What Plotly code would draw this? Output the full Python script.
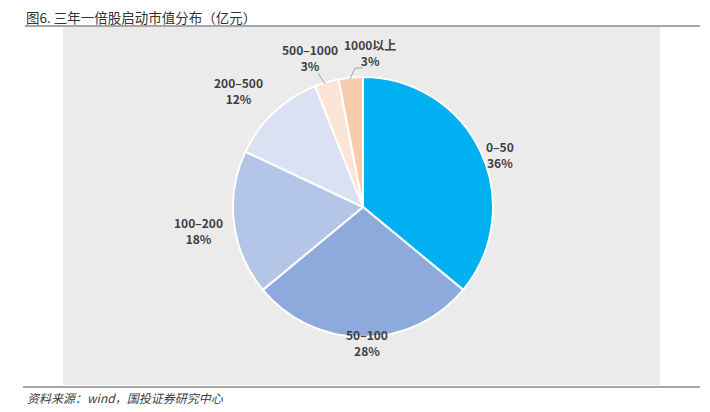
import plotly.graph_objects as go

# Data
categories = ["0–50", "50–100", "100–200", "200–500", "500–1000", "1000以上"]
shares = [36, 28, 18, 12, 3, 3]
colors = ["#00B0F0", "#8EA9DB", "#B4C6E7", "#D9E1F2", "#FCE4D6", "#F8CBAD"]

# Label placement (pixel centers of label blocks) - layout only
label_pos = [(500, 154), (367, 342), (198, 230), (238, 91), (310, 57), (370, 53)]

# page body has an 8px default margin; work in page pixels and convert
OFF = 8
W, H = 710 - OFF, 412 - OFF
def px(x):
    return (x - OFF) / W
def py(y):
    return 1 - (y - OFF) / H

fig = go.Figure()
cx, cy, r = 363, 207, 130
fig.add_trace(go.Pie(
    labels=categories, values=shares, sort=False, direction="clockwise", rotation=0,
    marker=dict(colors=colors, line=dict(color="white", width=2)),
    textinfo="none", hoverinfo="label+percent", showlegend=False,
    domain=dict(x=[px(cx - r), px(cx + r)], y=[py(cy + r), py(cy - r)]),
))

total = sum(shares)
annotations = []
for cat, v, (lx, ly) in zip(categories, shares, label_pos):
    pct = round(v / total * 100)
    annotations.append(dict(
        x=px(lx), y=py(ly), xref="paper", yref="paper", showarrow=False,
        text=f"{cat}<br>{pct}%", xanchor="center", yanchor="middle",
        font=dict(family="Noto Sans CJK SC", size=12, color="#404040", weight="bold"),
        align="center",
    ))

# Title and footer
annotations.append(dict(x=px(25), y=py(16.5), xref="paper", yref="paper", showarrow=False,
                        text="图6. 三年一倍股启动市值分布（亿元）", xanchor="left", yanchor="middle",
                        borderpad=0,
                        font=dict(family="Noto Sans CJK SC", size=13.5, color="#333333")))
annotations.append(dict(x=px(25), y=py(397), xref="paper", yref="paper", showarrow=False,
                        text="资料来源：wind，国投证券研究中心", xanchor="left", yanchor="middle",
                        font=dict(family="Noto Sans CJK SC", size=12, color="#404040", style="italic")))

shapes = [
    dict(type="rect", xref="paper", yref="paper", x0=px(63), x1=px(660), y0=py(385), y1=py(27),
         fillcolor="#EBEBEB", line=dict(width=0), layer="below"),
    dict(type="line", xref="paper", yref="paper", x0=px(25), x1=px(700), y0=py(26), y1=py(26),
         line=dict(color="#A6A6A6", width=2)),
    dict(type="line", xref="paper", yref="paper", x0=px(23), x1=px(700), y0=py(387), y1=py(387),
         line=dict(color="#A6A6A6", width=2)),
    # leader lines
    dict(type="path", xref="paper", yref="paper",
         path=f"M {px(318)},{py(73)} L {px(325)},{py(84)}", line=dict(color="#A6A6A6", width=1)),
    dict(type="path", xref="paper", yref="paper",
         path=f"M {px(350)},{py(79)} L {px(355)},{py(68)} L {px(363)},{py(68)}",
         line=dict(color="#A6A6A6", width=1)),
]

fig.update_layout(
    width=W, height=H, margin=dict(l=0, r=0, t=0, b=0),
    paper_bgcolor="white", plot_bgcolor="white",
    annotations=annotations, shapes=shapes,
)

fig.write_html("out.html")
